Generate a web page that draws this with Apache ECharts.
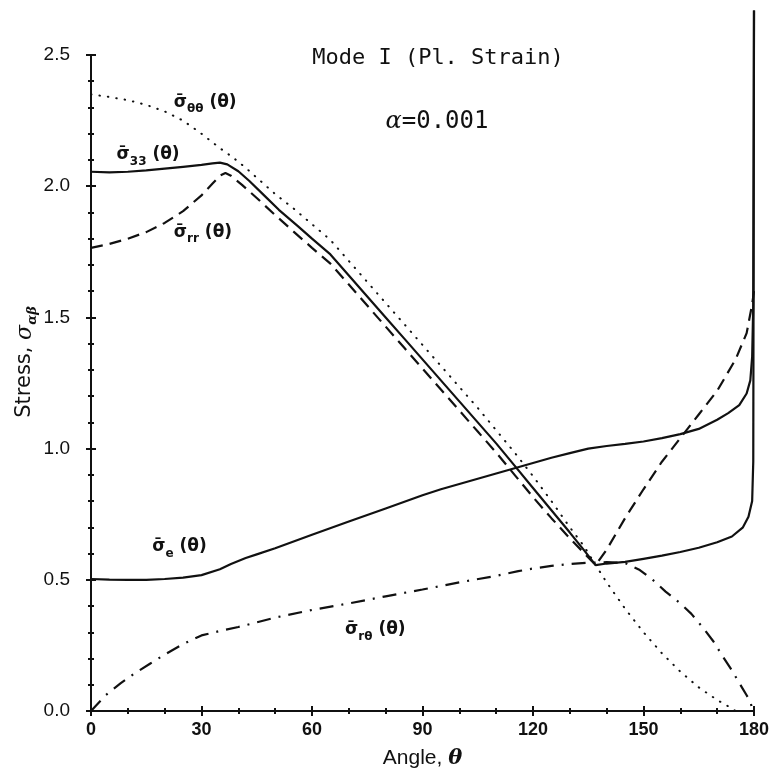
<!DOCTYPE html>
<html><head><meta charset="utf-8">
<script src="https://cdn.jsdelivr.net/npm/echarts@6/dist/echarts.min.js"></script>
<style>html,body{margin:0;padding:0;background:#fff}#c{width:776px;height:777px}</style>
</head><body><div id="c"></div>
<script>
// ---- tick labels ----
const xTickLabels = ['0','30','60','90','120','150','180'];
const yTickLabels = ['0.0','0.5','1.0','1.5','2.0','2.5'];

// ---- sigma_33 (solid) ----
const theta33 = [0,5,10,15,20,25,30,33,35,37,40,43,47,51,56,60,65,70,75,80,85,90,95,100,105,110,115,120,125,130,134,137,140,145,150,155,160,165,170,174,177,178.5,179.5,179.8,180];
const sigma33 = [2.055,2.053,2.055,2.06,2.067,2.074,2.081,2.087,2.09,2.083,2.057,2.02,1.965,1.91,1.85,1.80,1.74,1.66,1.58,1.50,1.42,1.34,1.26,1.18,1.10,1.02,0.935,0.85,0.765,0.68,0.61,0.556,0.562,0.568,0.58,0.592,0.606,0.622,0.643,0.665,0.70,0.74,0.80,0.95,2.67];

// ---- sigma_rr (dashed) ----
const thetaRR = [0,5,10,15,20,25,30,33,35,36.5,38,41,45,50,55,60,65,70,75,80,85,90,95,100,105,110,115,120,125,130,134,137,140,145,150,155,160,165,170,175,178,179.5,180];
const sigmaRR = [1.765,1.78,1.80,1.825,1.86,1.905,1.965,2.01,2.04,2.05,2.04,2.005,1.955,1.89,1.827,1.765,1.705,1.625,1.545,1.465,1.385,1.305,1.225,1.145,1.065,0.985,0.90,0.815,0.735,0.658,0.60,0.556,0.615,0.735,0.845,0.95,1.04,1.13,1.22,1.34,1.44,1.55,1.6];

// ---- sigma_thetatheta (dotted) ----
const thetaTT = [0,5,10,15,20,25,30,35,38.5,42,46,50,55,60,65,70,75,80,85,90,95,100,105,110,115,120,125,130,134,137,140,145,150,155,160,165,170,173,175];
const sigmaTT = [2.35,2.34,2.328,2.31,2.285,2.25,2.2,2.145,2.11,2.07,2.02,1.97,1.915,1.855,1.795,1.715,1.635,1.555,1.475,1.395,1.315,1.235,1.155,1.07,0.985,0.895,0.80,0.70,0.625,0.556,0.49,0.39,0.30,0.22,0.15,0.09,0.042,0.018,0];

// ---- sigma_rtheta (dash-dot) ----
const thetaRT = [0,4,8,12,16,20,25,30,35,40,50,60,70,80,90,100,110,116,120,125,130,135,140,145,149,152.5,156,160,163,166,169,171.6,174,176,178,179,179.7];
const sigmaRT = [0,0.06,0.105,0.145,0.18,0.215,0.255,0.288,0.305,0.32,0.356,0.385,0.41,0.437,0.463,0.49,0.515,0.533,0.543,0.553,0.56,0.565,0.567,0.564,0.537,0.50,0.455,0.41,0.37,0.32,0.265,0.206,0.155,0.107,0.06,0.035,0];

// ---- sigma_e (solid) ----
const thetaE = [0,5,10,15,20,25,30,35,38,42,45,50,60,70,80,90,95,100,110,115,120,125,130,135,140,145,150,155,160,165,170,173,176,178,179,179.5,179.8,180];
const sigmaE = [0.503,0.501,0.50,0.50,0.503,0.508,0.518,0.54,0.56,0.583,0.597,0.62,0.672,0.722,0.772,0.822,0.845,0.865,0.905,0.925,0.945,0.965,0.983,1.0,1.01,1.018,1.027,1.04,1.055,1.075,1.11,1.135,1.166,1.21,1.26,1.35,1.55,2.67];

// ---- curve labels: subscript, theta, sigma ----
const labelSubs = ['θθ','33','rr','e','rθ'];
const labelTheta = [31,15.5,30.4,24,77.2];
const labelSigma = [2.32,2.12,1.825,0.625,0.31];

const zip = (a,b) => a.map((t,i)=>[t,b[i]]);
const INK = '#111';
const base = {type:'line', showSymbol:false, symbol:'none', clip:false, silent:true, animation:false};

const chart = echarts.init(document.getElementById('c'));
const tickFont = 'Liberation Sans';

const axisCommonX = {type:'value', min:0, max:180, interval:30};
const axisCommonY = {type:'value', min:0, max:2.5, interval:0.5};

chart.setOption({
  backgroundColor:'#fff',
  animation:false,
  grid:{left:91, right:22, top:55, bottom:66},
  xAxis:[
    Object.assign({}, axisCommonX, {
      position:'bottom',
      axisLine:{show:true, lineStyle:{color:INK, width:2}},
      axisTick:{show:true, inside:false, length:5, lineStyle:{color:INK, width:2}},
      minorTick:{show:true, splitNumber:3, length:3, lineStyle:{color:INK, width:2}},
      splitLine:{show:false},
      axisLabel:{margin:10, color:INK, fontFamily:tickFont, fontSize:18, fontWeight:'bold',
        formatter:v => xTickLabels[Math.round(v/30)]},
      name:'{a|Angle, }{t|θ}', nameLocation:'middle', nameGap:37,
      nameTextStyle:{rich:{a:{fontFamily:tickFont, fontSize:21, color:INK},
                           t:{fontFamily:'DejaVu Serif', fontStyle:'italic', fontWeight:'bold', fontSize:21, color:INK}}}
    }),
    Object.assign({}, axisCommonX, {
      position:'bottom',
      axisLine:{show:false},
      axisTick:{show:true, inside:true, length:5, lineStyle:{color:INK, width:2}},
      minorTick:{show:true, splitNumber:3, length:3, lineStyle:{color:INK, width:2}},
      splitLine:{show:false}, axisLabel:{show:false}
    })
  ],
  yAxis:[
    Object.assign({}, axisCommonY, {
      position:'left',
      axisLine:{show:true, lineStyle:{color:INK, width:2}},
      axisTick:{show:true, inside:false, length:5, lineStyle:{color:INK, width:2}},
      minorTick:{show:true, splitNumber:5, length:3, lineStyle:{color:INK, width:2}},
      splitLine:{show:false},
      axisLabel:{margin:21, color:INK, fontFamily:tickFont, fontSize:19,
        formatter:v => yTickLabels[Math.round(v/0.5)]}
    }),
    Object.assign({}, axisCommonY, {
      position:'left',
      axisLine:{show:false},
      axisTick:{show:true, inside:true, length:5, lineStyle:{color:INK, width:2}},
      minorTick:{show:true, splitNumber:5, length:3, lineStyle:{color:INK, width:2}},
      splitLine:{show:false}, axisLabel:{show:false}
    })
  ],
  graphic:[
    {type:'text', x:438, y:58, silent:true,
     style:{text:'Mode I (Pl. Strain)', font:'22px "DejaVu Sans Mono"', fill:INK, align:'center', verticalAlign:'middle'}},
    {type:'text', x:437, y:122, silent:true,
     style:{text:'{a|α}{b|=0.001}', align:'center', verticalAlign:'middle',
       rich:{a:{fontFamily:'DejaVu Serif', fontStyle:'italic', fontSize:24, fill:INK, color:INK},
             b:{fontFamily:'DejaVu Sans Mono', fontSize:24, fill:INK, color:INK}}}},
    {type:'text', x:25, y:362, rotation:Math.PI/2, silent:true,
     style:{text:'{n|Stress, }{i|σ}{s|αβ}', align:'center', verticalAlign:'middle',
       rich:{n:{fontFamily:'DejaVu Sans', fontSize:21, fill:INK, color:INK, lineHeight:28, verticalAlign:'middle'},
             i:{fontFamily:'DejaVu Serif', fontStyle:'italic', fontSize:22, fill:INK, color:INK, lineHeight:28, verticalAlign:'middle'},
             s:{fontFamily:'DejaVu Serif', fontStyle:'italic', fontWeight:'bold', fontSize:13, fill:INK, color:INK, verticalAlign:'bottom'}}}}
  ],
  series:[
    Object.assign({}, base, {name:'s33', data:zip(theta33, sigma33), lineStyle:{color:INK, width:2.2}}),
    Object.assign({}, base, {name:'se', data:zip(thetaE, sigmaE), lineStyle:{color:INK, width:2.2}}),
    Object.assign({}, base, {name:'srr', data:zip(thetaRR, sigmaRR), lineStyle:{color:INK, width:2.2, type:[12,7]}}),
    Object.assign({}, base, {name:'stt', data:zip(thetaTT, sigmaTT), lineStyle:{color:INK, width:2, type:[0.5,8], cap:'round'}}),
    Object.assign({}, base, {name:'srt', data:zip(thetaRT, sigmaRT), lineStyle:{color:INK, width:2.2, type:[14,8,2,8]}}),
    {type:'scatter', symbolSize:0, silent:true, animation:false,
     itemStyle:{opacity:1},
     data:labelSubs.map((s,i)=>({value:[labelTheta[i], labelSigma[i]]})),
     label:{show:true, position:'inside', color:INK, opacity:1,
       formatter:p => '{s|σ̄}{b|' + labelSubs[p.dataIndex] + '}{s| (θ)}',
       rich:{s:{fontFamily:'DejaVu Sans', fontWeight:'bold', fontSize:17, color:INK, lineHeight:26, verticalAlign:'middle'},
             b:{fontFamily:'DejaVu Sans', fontWeight:'bold', fontSize:12, color:INK, verticalAlign:'bottom'}}}}
  ]
});
</script>
</body></html>
